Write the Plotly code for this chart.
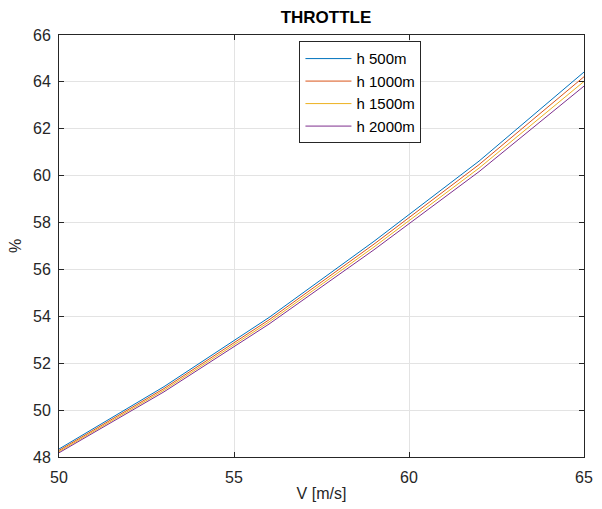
import plotly.graph_objects as go

V = [50, 53, 56, 59, 62, 65]
h500 = [48.34, 51.00, 53.95, 57.20, 60.62, 64.42]
h1000 = [48.28, 50.92, 53.85, 57.08, 60.47, 64.22]
h1500 = [48.23, 50.85, 53.76, 56.96, 60.32, 64.02]
h2000 = [48.18, 50.78, 53.67, 56.84, 60.17, 63.82]

names = ["h 500m", "h 1000m", "h 1500m", "h 2000m"]
colors = ["#0072BD", "#D95319", "#EDB120", "#7E2F8E"]
series = [h500, h1000, h1500, h2000]

fig = go.Figure()
for n, c, s in zip(names, colors, series):
    fig.add_trace(go.Scatter(x=V, y=s, mode="lines", name=n,
                             line=dict(color=c, width=1)))

axis_common = dict(
    showgrid=True, gridcolor="#e3e3e3", gridwidth=1,
    showline=True, linecolor="#262626", linewidth=1, mirror="ticks",
    ticks="inside", ticklen=5, tickcolor="#262626",
    tickfont=dict(size=16, color="#262626"),
    zeroline=False,
)

fig.update_layout(
    width=602, height=509,
    margin=dict(l=59, r=9, t=35, b=52),
    paper_bgcolor="white", plot_bgcolor="white",
    font=dict(family="Liberation Sans, Arial, sans-serif", color="#262626"),
    title=dict(text="<b>THROTTLE</b>", x=326 / 602, xanchor="center",
               y=1 - 17 / 509, yanchor="middle", font=dict(size=17, color="#000000")),
    xaxis=dict(range=[50, 65], tickvals=[50, 55, 60, 65],
               ticklabelstandoff=6,
               title=dict(text="V [m/s]", font=dict(size=16, color="#262626"), standoff=2),
               **axis_common),
    yaxis=dict(range=[48, 66], tickvals=list(range(48, 67, 2)),
               ticklabelstandoff=4,
               title=dict(text="%", font=dict(size=16, color="#262626"), standoff=7),
               **axis_common),
    legend=dict(x=0.458, y=0.985, xanchor="left", yanchor="top",
                bgcolor="white", bordercolor="#262626", borderwidth=1,
                font=dict(size=15, color="#000000"),
                itemwidth=46, tracegroupgap=0),
    showlegend=True,
)

fig.write_html("out.html")
